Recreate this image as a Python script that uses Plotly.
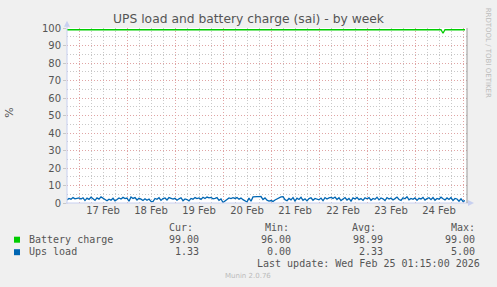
import pandas as pd
import plotly.graph_objects as go

# ---------------- data ----------------
ups_start = "2026-02-16 18:00"
ups_load = [
    1.8, 2.6, 2.2, 3.1, 2.4, 2.7,
    2.9, 2.3, 3.0, 1.4, 2.8, 2.1, 3.3, 2.4, 1.5, 2.9, 2.2, 3.5, 2.6, 1.7, 1.3, 2.2, 1.6, 2.7, 1.2, 2.0, 2.9, 2.3, 3.2, 2.5,
    2.8, 1.0, 3.4, 2.6, 3.1, 1.7, 2.7, 2.2, 1.4, 2.4, 1.6, 2.3, 0.9, 0.8, 2.6, 2.1, 3.0, 1.5, 2.5, 2.9, 1.7, 3.1, 2.4, 2.2,
    2.7, 1.6, 2.4, 3.0, 1.3, 2.3, 2.0, 1.2, 2.6, 2.2, 3.1, 2.5, 2.9, 2.1, 3.3, 2.6, 3.4, 2.9, 3.2, 2.4, 2.7, 3.1, 1.5, 2.3,
    0.3, 1.1, 1.8, 2.9, 2.5, 3.0, 2.6, 3.1, 2.2, 2.8, 1.9, 1.2, 0.6, 2.8, 1.0, 3.5, 3.7, 3.7, 3.6, 3.7, 2.0, 2.9, 1.6, 1.1,
    1.4, 0.9, 1.7, 2.3, 3.3, 3.5, 3.6, 1.9, 1.3, 2.6, 1.8, 3.1, 1.1, 2.8, 2.0, 3.2, 1.5, 2.4, 1.2, 2.5, 3.0, 1.6, 2.6, 2.1,
    1.8, 2.8, 1.3, 3.1, 2.3, 2.9, 3.2, 2.6, 3.4, 2.0, 3.0, 1.4, 2.4, 3.1, 1.7, 2.6, 1.1, 2.9, 2.3, 3.2, 1.9, 2.5, 1.5, 3.0,
    2.4, 3.1, 1.6, 2.6, 2.1, 3.3, 1.8, 2.9, 2.4, 1.4, 3.1, 2.3, 2.8, 1.7, 2.5, 3.4, 2.0, 1.5, 3.0, 2.4, 3.6, 1.8, 2.6, 2.1,
    2.9, 1.5, 2.7, 2.3, 3.2, 1.7, 2.5, 3.0, 1.9, 3.1, 1.6, 2.6, 2.2, 3.3, 2.4, 1.8, 2.9, 2.0, 3.1, 1.4, 2.6, 2.3, 1.0, 2.4,
    0.9, 1.33,
]
battery_times = ["2026-02-16 18:00", "2026-02-24 13:00", "2026-02-24 14:00",
                 "2026-02-24 15:00", "2026-02-25 01:00"]
battery_charge = [99, 99, 97, 99, 99]

legend_names = ["Battery charge", "Ups load"]
legend_colors = ["#00CC00", "#0066B3"]
col_headers = ["Cur:", "Min:", "Avg:", "Max:"]
stats = [["99.00", "96.00", "98.99", "99.00"],
         ["1.33", "0.00", "2.33", "5.00"]]
title_text = "UPS load and battery charge (sai) - by week"
last_update = "Last update: Wed Feb 25 01:15:00 2026"
x_range = ["2026-02-16 18:00", "2026-02-25 02:00"]

ups_times = pd.date_range(ups_start, periods=len(ups_load), freq="h")

# ---------------- figure ----------------
W, H = 497, 287
L, R, T, B = 67, 467, 28.3, 203.3


def px(x):
    return (x - L) / (R - L)


def py(y):
    return (B - y) / (B - T)


TXT = "#555555"
MAJ = "#E0A4A4"
MIN = "#C8C8C8"
DASH = "1px,2px"
fig = go.Figure()
fig.add_trace(go.Scatter(x=battery_times, y=battery_charge, mode="lines",
                         line=dict(color=legend_colors[0], width=1.3),
                         showlegend=False, hoverinfo="skip"))
fig.add_trace(go.Scatter(x=ups_times, y=ups_load, mode="lines",
                         line=dict(color=legend_colors[1], width=1.3),
                         showlegend=False, hoverinfo="skip"))

fig.update_layout(
    width=W, height=H,
    margin=dict(l=L, r=W - R, t=T, b=H - B),
    paper_bgcolor="#F0F0F0", plot_bgcolor="#FFFFFF",
    font=dict(family="DejaVu Sans", size=10, color=TXT),
    title=dict(text=title_text, x=0.5, xref="container", xanchor="center",
               y=1 - 18.5 / H, yref="container", yanchor="middle",
               font=dict(family="DejaVu Sans", size=12.3, color=TXT)),
    showlegend=False,
)
fig.update_xaxes(
    type="date", range=x_range, showline=False, zeroline=False,
    tick0="2026-02-17", dtick=86400000, ticklabelmode="period", tickformat="%d %b",
    showgrid=True, gridcolor=MAJ, griddash=DASH, gridwidth=1,
    ticks="", tickfont=dict(size=10, color=TXT),
    minor=dict(tick0="2026-02-17", dtick=21600000, showgrid=True,
               gridcolor=MIN, griddash=DASH, gridwidth=1),
)
fig.update_yaxes(
    range=[0, 100], dtick=10, showline=False, zeroline=False,
    showgrid=True, gridcolor=MAJ, griddash=DASH, gridwidth=1,
    ticks="outside", ticklen=3, tickcolor="#C8C8C8",
    tickfont=dict(size=10, color=TXT),
    minor=dict(dtick=5, showgrid=True, gridcolor=MIN, griddash=DASH, gridwidth=1),
)

shapes = []
axc = "#C8D0F0"
# left axis + arrow
shapes.append(dict(type="line", xref="paper", yref="paper", x0=0, x1=0,
                   y0=py(B + 1), y1=py(23), line=dict(color=axc, width=1)))
shapes.append(dict(type="path", xref="paper", yref="paper",
                   path=f"M {px(64)} {py(27)} L {px(70)} {py(27)} L {px(67)} {py(21)} Z",
                   fillcolor=axc, line=dict(color=axc, width=0)))
# bottom axis + arrow
shapes.append(dict(type="line", xref="paper", yref="paper", x0=px(L - 1), x1=px(472),
                   y0=0, y1=0, line=dict(color=axc, width=1)))
shapes.append(dict(type="path", xref="paper", yref="paper",
                   path=f"M {px(468)} {py(B - 3)} L {px(468)} {py(B + 3)} L {px(474)} {py(B)} Z",
                   fillcolor=axc, line=dict(color=axc, width=0)))
# right frame line
shapes.append(dict(type="line", xref="paper", yref="paper", x0=1, x1=1,
                   y0=0, y1=1, line=dict(color="#999999", width=1)))
# legend squares
for i, c in enumerate(legend_colors):
    yc = 240 + 12.5 * i
    shapes.append(dict(type="rect", xref="paper", yref="paper",
                       x0=px(14), x1=px(20), y0=py(yc + 3), y1=py(yc - 3),
                       fillcolor=c, line=dict(width=0)))
fig.update_layout(shapes=shapes)

ann = []
MONO = "DejaVu Sans Mono"


def add_text(text, x, y, anchor="left", size=10, color=TXT, family=MONO, angle=0):
    ann.append(dict(text=text, xref="paper", yref="paper", x=px(x), y=py(y),
                    xanchor=anchor, yanchor="middle", showarrow=False,
                    textangle=angle, font=dict(family=family, size=size, color=color)))


col_right = [195, 291, 378, 477]
val_right = [201, 293, 385, 477]
for h, xr in zip(col_headers, col_right):
    add_text(h, xr, 227.5, anchor="right")
for i, name in enumerate(legend_names):
    yy = 239.5 + 12.7 * i
    add_text(name, 26.5, yy)
    for v, xr in zip(stats[i], val_right):
        add_text(v, xr, yy, anchor="right")
add_text(last_update, 482, 264, anchor="right")
add_text("Munin 2.0.76", 248, 276, anchor="center", size=7, color="#BBBBBB", family="DejaVu Sans")
add_text("RRDTOOL / TOBI OETIKER", 488, 53, anchor="center", size=7, color="#BBBBBB",
         family="DejaVu Sans", angle=90)
add_text("%", 10, 113, anchor="center", size=11, family="DejaVu Sans", angle=-90)
fig.update_layout(annotations=ann)

fig.write_html("out.html")
